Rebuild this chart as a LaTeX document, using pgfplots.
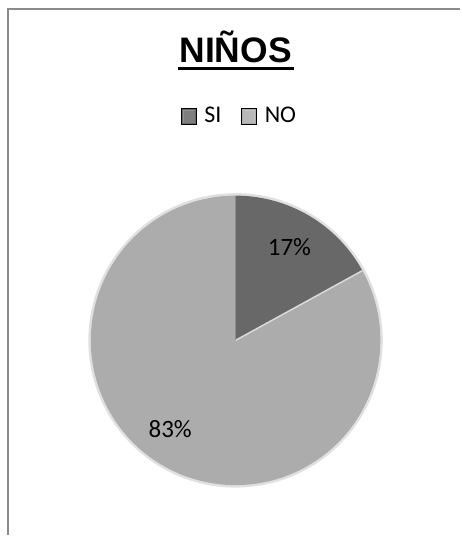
\documentclass[border=0pt]{standalone}
\usepackage{pgfplots}
\pgfplotsset{compat=1.18}
\usepackage{pgfplotstable}
\usepackage{fontspec}
\setmainfont{Carlito}
\newfontfamily\titlefont{Liberation Sans}
\definecolor{siColor}{RGB}{104,104,104}
\definecolor{noColor}{RGB}{172,172,172}
\definecolor{frameColor}{RGB}{140,140,140}

\pgfplotstableread{
label value
SI 17
NO 83
}\piedata

\begin{document}
\begin{tikzpicture}
\pgfplotstablegetelem{0}{value}\of\piedata \let\vSI\pgfplotsretval
\pgfplotstablegetelem{1}{value}\of\piedata \let\vNO\pgfplotsretval
\pgfmathsetmacro\aStart{90}
\pgfmathsetmacro\aMid{90-3.6*\vSI}
\pgfmathsetmacro\aEnd{\aMid-3.6*\vNO}
\begin{axis}[
  x=1pt, y=1pt, xmin=0, xmax=461, ymin=0, ymax=536,
  hide axis, clip=false, scale only axis,
  legend columns=2,
  legend style={draw=none, fill=none, at={(axis cs:240,420)}, anchor=center,
    font=\fontsize{24}{28}\selectfont, inner sep=0pt,
    /tikz/every even column/.append style={column sep=18pt},
    /tikz/every odd column/.append style={column sep=6pt}},
  legend image code/.code={\fill[#1] (0pt,-8pt) rectangle (15pt,8pt);
    \fill[white, opacity=0.15] (2pt,-6pt) rectangle (13pt,6pt);},
]
\path (axis cs:0,0) rectangle (axis cs:461,536);
% frame
\draw[frameColor, line width=2pt] (axis cs:8,0) -- (axis cs:8,527) -- (axis cs:461,527);
% pie shadow rim
\fill[black!12] (axis cs:236,195) circle[radius=147.5pt];
% wedges
\fill[siColor] (axis cs:236,195) -- ++(\aStart:145pt) arc[start angle=\aStart, end angle=\aMid, radius=145pt] -- cycle;
\fill[noColor] (axis cs:236,195) -- ++(\aMid:145pt) arc[start angle=\aMid, end angle=\aEnd, radius=145pt] -- cycle;
\draw[white!55!noColor, line width=1.5pt] (axis cs:236,195) -- ++(\aMid:145pt);
\draw[black!45, line width=0.6pt] (axis cs:236,195) -- ++(\aStart:145pt);
% labels
\node[font=\fontsize{25}{29}\selectfont] at (axis cs:290,288) {17\%};
\node[font=\fontsize{25}{29}\selectfont] at (axis cs:170.5,106) {83\%};
% title
\node[anchor=base, inner sep=0pt, font=\titlefont\bfseries\fontsize{35.5}{40}\selectfont] (t) at (axis cs:236,473.7) {NIÑOS};
\draw[line width=3pt] ([yshift=-6.5pt, xshift=-1pt]t.base west) -- ([yshift=-6.5pt, xshift=2pt]t.base east);
% legend
\addlegendimage{fill=siColor}
\addlegendentry{SI}
\addlegendimage{fill=noColor}
\addlegendentry{NO}
\end{axis}
\end{tikzpicture}
\end{document}
